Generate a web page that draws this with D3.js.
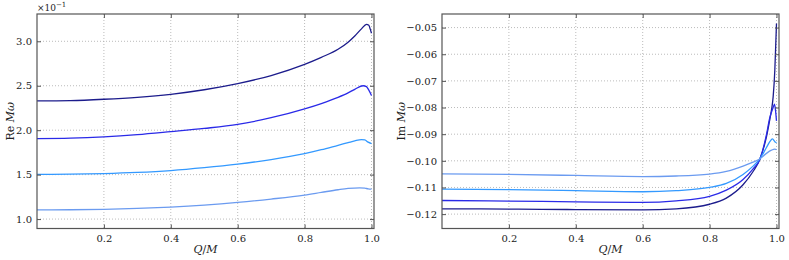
<!DOCTYPE html>
<html><head><meta charset="utf-8">
<script src="https://cdn.jsdelivr.net/npm/d3@7"></script>
<style>
body{margin:0;background:#fff;}
svg{display:block;font-family:"DejaVu Serif",serif;}
</style></head><body>
<svg id="c" width="789" height="260"></svg>
<script>
// ---- data ----
const seriesNames = ["n0","n1","n2","n3"];
const seriesColors = ["#1c1c8c","#2a2ae8","#3399ff","#6b9bf0"];
// Re M omega (x 10^-1)
const reX0 = [0,0.1,0.2,0.3,0.4,0.5,0.6,0.7,0.8,0.85,0.9,0.93,0.95,0.97,0.985,0.992,0.996,1.0];
const reY0 = [2.329,2.333,2.348,2.370,2.404,2.455,2.524,2.615,2.741,2.820,2.910,2.990,3.060,3.140,3.190,3.180,3.140,3.090];
const reX1 = [0,0.1,0.2,0.3,0.4,0.5,0.6,0.7,0.8,0.85,0.9,0.93,0.95,0.975,0.985,0.992,1.0];
const reY1 = [1.905,1.910,1.925,1.950,1.984,2.020,2.065,2.140,2.240,2.300,2.370,2.420,2.460,2.500,2.490,2.450,2.390];
const reX2 = [0,0.1,0.2,0.3,0.4,0.5,0.6,0.7,0.8,0.85,0.9,0.93,0.95,0.97,0.98,0.99,1.0];
const reY2 = [1.503,1.505,1.512,1.525,1.546,1.578,1.618,1.670,1.737,1.780,1.830,1.860,1.880,1.894,1.890,1.865,1.850];
const reX3 = [0,0.1,0.2,0.3,0.4,0.5,0.6,0.7,0.8,0.85,0.9,0.93,0.965,0.98,0.99,1.0];
const reY3 = [1.103,1.105,1.110,1.120,1.135,1.157,1.187,1.225,1.270,1.300,1.330,1.345,1.352,1.348,1.340,1.337];
// Im M omega
const imX0 = [0,0.2,0.4,0.6,0.7,0.8,0.85,0.9,0.93,0.95,0.97,0.98,0.985,0.99,0.995,0.999,1.0];
const imY0 = [-0.1180,-0.1181,-0.1183,-0.1184,-0.1180,-0.1163,-0.1140,-0.1090,-0.1040,-0.0995,-0.0910,-0.0845,-0.0810,-0.0760,-0.0660,-0.0520,-0.0485];
const imX1 = [0,0.2,0.4,0.6,0.7,0.8,0.85,0.9,0.93,0.95,0.97,0.98,0.99,0.994,0.997,1.0];
const imY1 = [-0.1149,-0.1151,-0.1154,-0.1156,-0.1150,-0.1133,-0.1110,-0.1070,-0.1030,-0.0995,-0.0902,-0.0838,-0.0800,-0.0787,-0.0810,-0.0850];
const imX2 = [0,0.2,0.4,0.6,0.7,0.8,0.85,0.9,0.93,0.95,0.97,0.98,0.988,0.995,1.0];
const imY2 = [-0.1106,-0.1108,-0.1112,-0.1116,-0.1112,-0.1100,-0.1085,-0.1051,-0.1020,-0.0993,-0.0950,-0.0928,-0.0918,-0.0928,-0.0932];
const imX3 = [0,0.2,0.4,0.6,0.7,0.8,0.85,0.9,0.93,0.95,0.97,0.985,0.995,1.0];
const imY3 = [-0.1049,-0.1051,-0.1055,-0.1059,-0.1057,-0.1050,-0.1040,-0.1020,-0.1005,-0.0993,-0.0972,-0.0960,-0.0956,-0.0958];

const xTicks = [0.2,0.4,0.6,0.8,1.0];
const reTicks = [1.0,1.5,2.0,2.5,3.0];
const imTicks = [-0.12,-0.11,-0.10,-0.09,-0.08,-0.07,-0.06,-0.05];

const svg = d3.select("#c");

function panel(o){
  const g = svg.append("g");
  const x = d3.scaleLinear().domain(o.xdom).range([o.l,o.r]);
  const y = d3.scaleLinear().domain(o.ydom).range([o.b,o.t]);
  // grid
  g.selectAll(".gx").data(xTicks).join("line")
    .attr("x1",d=>x(d)).attr("x2",d=>x(d)).attr("y1",o.t).attr("y2",o.b)
    .attr("stroke","#aaa").attr("stroke-width",0.8).attr("stroke-dasharray","1,2");
  g.selectAll(".gy").data(o.yticks).join("line")
    .attr("x1",o.l).attr("x2",o.r).attr("y1",d=>y(d)).attr("y2",d=>y(d))
    .attr("stroke","#aaa").attr("stroke-width",0.8).attr("stroke-dasharray","1,2");
  // lines
  const line = d3.line().x(d=>x(d[0])).y(d=>y(d[1])).curve(d3.curveMonotoneX);
  o.series.forEach((s,i)=>{
    const pts = s[0].map((v,j)=>[v,s[1][j]]);
    g.append("path").attr("d",line(pts)).attr("fill","none")
      .attr("stroke",seriesColors[i]).attr("stroke-width",1.3);
  });
  // axes with inward ticks
  const ax = [
    [d3.axisBottom(x).tickValues(xTicks).tickSize(-4).tickPadding(6).tickFormat(d3.format(".1f")), `translate(0,${o.b})`, true],
    [d3.axisTop(x).tickValues(xTicks).tickSize(-4).tickFormat(""), `translate(0,${o.t})`, false],
    [d3.axisLeft(y).tickValues(o.yticks).tickSize(-4).tickPadding(5).tickFormat(o.yfmt), `translate(${o.l},0)`, true],
    [d3.axisRight(y).tickValues(o.yticks).tickSize(-4).tickFormat(""), `translate(${o.r},0)`, false]
  ];
  ax.forEach(a=>{
    const ag = g.append("g").attr("transform",a[1]).call(a[0]);
    ag.select(".domain").remove();
    ag.selectAll("line").attr("stroke","#555");
    ag.selectAll("text").attr("font-family","DejaVu Serif, serif").attr("font-size","10px").attr("fill","#222");
  });
  g.append("rect").attr("x",o.l).attr("y",o.t).attr("width",o.r-o.l).attr("height",o.b-o.t)
    .attr("fill","none").attr("stroke","#555").attr("stroke-width",1.2);
  // x label
  const xl = g.append("text").attr("x",(o.l+o.r)/2).attr("y",253).attr("text-anchor","middle")
    .attr("font-size","11px").attr("fill","#222");
  xl.append("tspan").attr("font-style","italic").text("Q");
  xl.append("tspan").text("/");
  xl.append("tspan").attr("font-style","italic").text("M");
  // y label
  const yl = g.append("text").attr("transform",`translate(${o.ylx},${(o.t+o.b)/2}) rotate(-90)`)
    .attr("text-anchor","middle").attr("font-size","11px").attr("fill","#222");
  yl.append("tspan").text(o.ylab+" ");
  yl.append("tspan").attr("font-style","italic").text("Mω");
  return {x,y};
}

panel({l:37,r:374,t:14,b:228.5,xdom:[0,1.0075],ydom:[0.894,3.307],yticks:reTicks,
  yfmt:d3.format(".1f"),ylab:"Re",ylx:14,
  series:[[reX0,reY0],[reX1,reY1],[reX2,reY2],[reX3,reY3]]});
panel({l:442,r:779,t:14,b:228.5,xdom:[0,1.0075],ydom:[-0.1254,-0.0449],yticks:imTicks,
  yfmt:d=>d3.format(".2f")(d).replace("-","\u2212"),ylab:"Im",ylx:405,
  series:[[imX0,imY0],[imX1,imY1],[imX2,imY2],[imX3,imY3]]});

const off = svg.append("text").attr("x",37).attr("y",11).attr("font-size","9px").attr("fill","#222");
off.append("tspan").text("×10");
off.append("tspan").attr("font-size","7px").attr("dy","-4").text("−1");
</script>
</body></html>
